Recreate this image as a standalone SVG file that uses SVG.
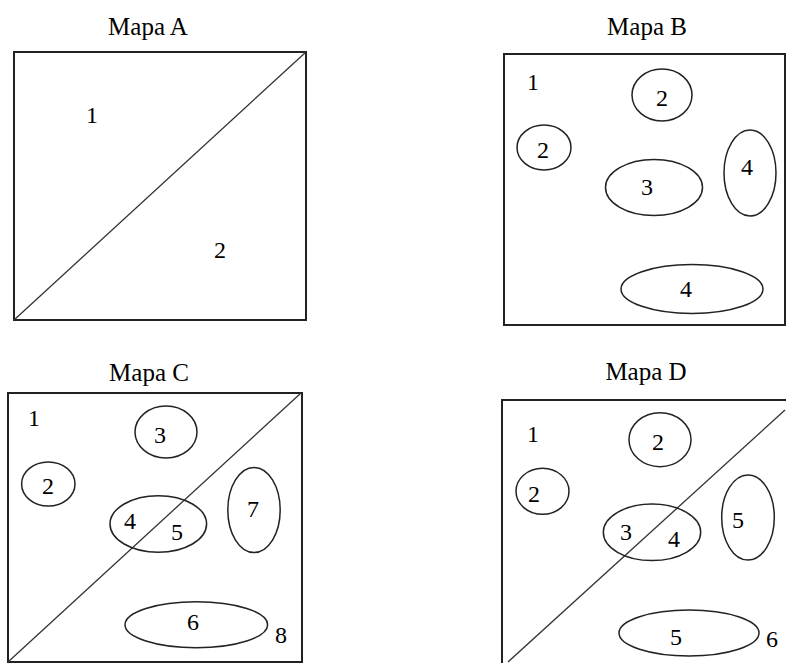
<svg xmlns="http://www.w3.org/2000/svg" width="786" height="663" viewBox="0 0 786 663">
<style>
  .frame{fill:none;stroke:#222;stroke-width:2}
  .diag{fill:none;stroke:#333;stroke-width:1.3}
  .ell{fill:none;stroke:#222;stroke-width:1.5}
  .t{font-family:"Liberation Serif","Times New Roman",serif;font-size:25px;fill:#000;text-anchor:middle}
  .n{font-family:"Liberation Serif","Times New Roman",serif;font-size:24px;fill:#000;text-anchor:middle}
</style>
<rect width="786" height="663" fill="#fff"/>
<g id="mapaA">
  <text class="t" x="148" y="35">Mapa A</text>
  <rect class="frame" x="14" y="52" width="292" height="268"/>
  <line class="diag" x1="14" y1="320" x2="306" y2="52"/>
  <text class="n" x="92" y="123">1</text>
  <text class="n" x="220" y="258">2</text>
</g>
<g id="mapaB">
  <text class="t" x="647" y="35">Mapa B</text>
  <rect class="frame" x="504" y="54" width="281" height="271"/>
  <ellipse class="ell" cx="662" cy="95" rx="30" ry="26"/>
  <ellipse class="ell" cx="544" cy="147.5" rx="27" ry="22.5"/>
  <ellipse class="ell" cx="654" cy="187.5" rx="48.5" ry="28"/>
  <ellipse class="ell" cx="750" cy="173" rx="26" ry="43"/>
  <ellipse class="ell" cx="692" cy="289" rx="71" ry="24.5"/>
  <text class="n" x="533" y="90">1</text>
  <text class="n" x="662" y="106">2</text>
  <text class="n" x="543" y="158">2</text>
  <text class="n" x="647" y="195">3</text>
  <text class="n" x="747" y="175">4</text>
  <text class="n" x="686" y="297">4</text>
</g>
<g id="mapaC">
  <text class="t" x="149" y="381">Mapa C</text>
  <rect class="frame" x="8" y="393" width="294" height="269"/>
  <line class="diag" x1="8" y1="662" x2="301" y2="393"/>
  <ellipse class="ell" cx="166" cy="432" rx="31" ry="26"/>
  <ellipse class="ell" cx="48.3" cy="484" rx="26.7" ry="22"/>
  <ellipse class="ell" cx="158.3" cy="524" rx="48.3" ry="28.3"/>
  <ellipse class="ell" cx="254" cy="510" rx="26.2" ry="42.5"/>
  <ellipse class="ell" cx="196.3" cy="624.7" rx="71.3" ry="23"/>
  <text class="n" x="34" y="426">1</text>
  <text class="n" x="160" y="443">3</text>
  <text class="n" x="48" y="494">2</text>
  <text class="n" x="130" y="529">4</text>
  <text class="n" x="177" y="540">5</text>
  <text class="n" x="253" y="517">7</text>
  <text class="n" x="193" y="630">6</text>
  <text class="n" x="281" y="643">8</text>
</g>
<g id="mapaD">
  <text class="t" x="646" y="380">Mapa D</text>
  <rect class="frame" x="502" y="400" width="300" height="280"/>
  <line class="diag" x1="508" y1="662" x2="785" y2="410"/>
  <ellipse class="ell" cx="660" cy="439.7" rx="31" ry="27"/>
  <ellipse class="ell" cx="542.5" cy="491.3" rx="26.5" ry="23"/>
  <ellipse class="ell" cx="652" cy="532.3" rx="48.7" ry="28.3"/>
  <ellipse class="ell" cx="748" cy="517.5" rx="26.3" ry="42.5"/>
  <ellipse class="ell" cx="689" cy="633" rx="70" ry="23"/>
  <text class="n" x="533" y="442">1</text>
  <text class="n" x="658" y="450">2</text>
  <text class="n" x="534" y="502">2</text>
  <text class="n" x="626" y="540">3</text>
  <text class="n" x="674" y="547">4</text>
  <text class="n" x="738" y="528">5</text>
  <text class="n" x="676" y="645">5</text>
  <text class="n" x="772" y="647">6</text>
</g>
</svg>
